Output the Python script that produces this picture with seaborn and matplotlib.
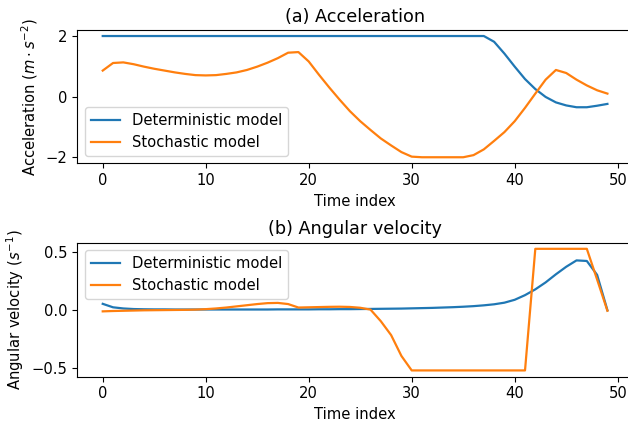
import numpy as np
import pandas as pd
import matplotlib
matplotlib.use("Agg")
import matplotlib.pyplot as plt
import seaborn as sns

time_index = list(range(50))

accel_deterministic = [2.0] * 38 + [
    1.81, 1.42, 0.99, 0.58, 0.25, -0.01, -0.19, -0.29, -0.35, -0.35, -0.30, -0.24,
]

accel_stochastic = [
    0.86, 1.11, 1.13, 1.07, 0.99, 0.92, 0.86, 0.80, 0.75, 0.71,
    0.70, 0.71, 0.75, 0.80, 0.88, 0.99, 1.12, 1.27, 1.45, 1.47,
    1.16, 0.72, 0.30, -0.10, -0.48, -0.81, -1.10, -1.38, -1.61, -1.83,
    -1.98, -2.0, -2.0, -2.0, -2.0, -2.0, -1.93, -1.74, -1.46, -1.17,
    -0.81, -0.37, 0.10, 0.56, 0.88, 0.78, 0.56, 0.37, 0.21, 0.10,
]

omega_deterministic = [
    0.05, 0.02, 0.01, 0.005, 0.003, 0.002, 0.002, 0.001, 0.001, 0.001,
    0.001, 0.001, 0.001, 0.001, 0.001, 0.001, 0.001, 0.002, 0.002, 0.002,
    0.002, 0.003, 0.003, 0.004, 0.004, 0.005, 0.006, 0.007, 0.008, 0.009,
    0.011, 0.013, 0.015, 0.018, 0.021, 0.025, 0.030, 0.037, 0.046, 0.060,
    0.085, 0.125, 0.175, 0.235, 0.305, 0.37, 0.425, 0.42, 0.30, -0.005,
]

omega_stochastic = [
    -0.015, -0.012, -0.010, -0.008, -0.006, -0.005, -0.004, -0.003, -0.002, 0.0,
    0.004, 0.010, 0.018, 0.028, 0.038, 0.048, 0.056, 0.058, 0.048, 0.018,
    0.020, 0.022, 0.024, 0.025, 0.023, 0.016, 0.0, -0.10, -0.22, -0.40,
    -0.525, -0.525, -0.525, -0.525, -0.525, -0.525, -0.525, -0.525, -0.525, -0.525,
    -0.525, -0.525, 0.525, 0.525, 0.525, 0.525, 0.525, 0.525, 0.26, -0.01,
]

series_names = ["Deterministic model", "Stochastic model"]
x_ticks = [0, 10, 20, 30, 40, 50]

fs = 10.6
title_fs = 12.7

fig = plt.figure(figsize=(6.28, 4.22), dpi=100)
ax_a = fig.add_axes([0.1234, 0.613, 0.884, 0.316])
ax_b = fig.add_axes([0.1234, 0.1078, 0.884, 0.317])

colors = ["#1f77b4", "#ff7f0e"]

for ax, (det, sto) in zip((ax_a, ax_b), ((accel_deterministic, accel_stochastic),
                                          (omega_deterministic, omega_stochastic))):
    df = pd.DataFrame({
        "t": time_index * 2,
        "value": det + sto,
        "model": [series_names[0]] * len(det) + [series_names[1]] * len(sto),
    })
    sns.lineplot(data=df, x="t", y="value", hue="model", palette=colors,
                 ax=ax, linewidth=1.6)
    ax.set_xticks(x_ticks)
    ax.set_xlabel("Time index", fontsize=fs)
    ax.tick_params(labelsize=fs)

ax_a.set_title("(a) Acceleration", fontsize=title_fs)
ax_a.set_ylabel(r"Acceleration ($m \cdot s^{-2}$)", fontsize=fs)
ax_a.set_yticks([-2, 0, 2])
ax_a.legend(loc="lower left", fontsize=fs)

ax_b.set_title("(b) Angular velocity", fontsize=title_fs)
ax_b.set_ylabel(r"Angular velocity ($s^{-1}$)", fontsize=fs)
ax_b.set_yticks([-0.5, 0.0, 0.5])
ax_b.legend(loc="upper left", fontsize=fs)

fig.savefig("out.png", dpi=100)
